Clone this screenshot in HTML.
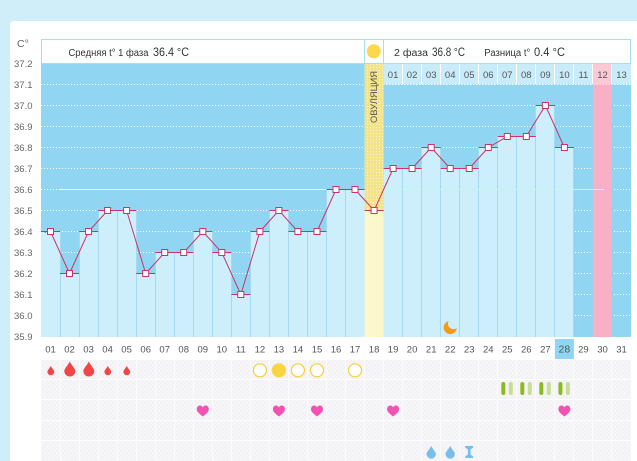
<!DOCTYPE html>
<html><head><meta charset="utf-8"><style>
html,body{margin:0;padding:0;background:#d0eef9;}
svg{display:block;}
text{font-family:"Liberation Sans","DejaVu Sans",sans-serif;}
</style></head><body>
<svg width="637" height="461" viewBox="0 0 637 461" xmlns="http://www.w3.org/2000/svg">
<defs>
<pattern id="dots" width="3" height="3" patternUnits="userSpaceOnUse"><rect x="1" y="1" width="1" height="1" fill="#ffffff" opacity="0.55"/></pattern>
<pattern id="hatch" width="4" height="4" patternUnits="userSpaceOnUse"><rect width="4" height="4" fill="#f6f6f8"/><path d="M0,4 L4,0" stroke="#efeff3" stroke-width="0.7"/></pattern>
<mask id="moonmask"><rect x="430" y="310" width="40" height="30" fill="#fff"/><circle cx="453.6" cy="323.6" r="5.6" fill="#000"/></mask>
</defs>
<rect x="0" y="0" width="637" height="461" fill="#d0eef9"/>
<rect x="10" y="21" width="640" height="460" rx="4" fill="#ffffff"/>

<!-- axis title -->
<text x="17" y="47" font-size="10.5" fill="#666">C°</text>

<!-- plot background -->
<rect x="41" y="63" width="590" height="274" fill="#90d6f2"/>

<!-- dotted gridlines -->
<g stroke="#ffffff" stroke-width="1" stroke-dasharray="1 2">
<line x1="41" x2="631" y1="84.5" y2="84.5"/>
<line x1="41" x2="631" y1="105.5" y2="105.5"/>
<line x1="41" x2="631" y1="126.5" y2="126.5"/>
<line x1="41" x2="631" y1="147.5" y2="147.5"/>
<line x1="41" x2="631" y1="168.5" y2="168.5"/>
<line x1="41" x2="631" y1="189.5" y2="189.5"/>
<line x1="41" x2="631" y1="210.5" y2="210.5"/>
<line x1="41" x2="631" y1="231.5" y2="231.5"/>
<line x1="41" x2="631" y1="252.5" y2="252.5"/>
<line x1="41" x2="631" y1="273.5" y2="273.5"/>
<line x1="41" x2="631" y1="294.5" y2="294.5"/>
<line x1="41" x2="631" y1="315.5" y2="315.5"/>
</g>

<!-- bars -->
<g fill="#cdeefb">
<rect x="41.0" y="231" width="19.1" height="106"/>
<rect x="60.0" y="273" width="19.1" height="64"/>
<rect x="79.1" y="231" width="19.1" height="106"/>
<rect x="98.1" y="210" width="19.1" height="127"/>
<rect x="117.1" y="210" width="19.1" height="127"/>
<rect x="136.2" y="273" width="19.1" height="64"/>
<rect x="155.2" y="252" width="19.1" height="85"/>
<rect x="174.2" y="252" width="19.1" height="85"/>
<rect x="193.3" y="231" width="19.1" height="106"/>
<rect x="212.3" y="252" width="19.1" height="85"/>
<rect x="231.3" y="294" width="19.1" height="43"/>
<rect x="250.4" y="231" width="19.1" height="106"/>
<rect x="269.4" y="210" width="19.1" height="127"/>
<rect x="288.4" y="231" width="19.1" height="106"/>
<rect x="307.5" y="231" width="19.1" height="106"/>
<rect x="326.5" y="189" width="19.1" height="148"/>
<rect x="345.5" y="189" width="19.1" height="148"/>
<rect x="383.6" y="168" width="19.1" height="169"/>
<rect x="402.6" y="168" width="19.1" height="169"/>
<rect x="421.6" y="147" width="19.1" height="190"/>
<rect x="440.7" y="168" width="19.1" height="169"/>
<rect x="459.7" y="168" width="19.1" height="169"/>
<rect x="478.7" y="147" width="19.1" height="190"/>
<rect x="497.8" y="136" width="19.1" height="201"/>
<rect x="516.8" y="136" width="19.1" height="201"/>
<rect x="535.8" y="105" width="19.1" height="232"/>
<rect x="554.9" y="147" width="19.1" height="190"/>
</g>
<!-- bar separators -->
<g stroke="#a3daf1" stroke-width="1">
<line x1="60.5" x2="60.5" y1="231" y2="337"/>
<line x1="79.5" x2="79.5" y1="231" y2="337"/>
<line x1="98.5" x2="98.5" y1="210" y2="337"/>
<line x1="117.5" x2="117.5" y1="210" y2="337"/>
<line x1="136.5" x2="136.5" y1="210" y2="337"/>
<line x1="155.5" x2="155.5" y1="252" y2="337"/>
<line x1="174.5" x2="174.5" y1="252" y2="337"/>
<line x1="193.5" x2="193.5" y1="231" y2="337"/>
<line x1="212.5" x2="212.5" y1="231" y2="337"/>
<line x1="231.5" x2="231.5" y1="252" y2="337"/>
<line x1="250.5" x2="250.5" y1="231" y2="337"/>
<line x1="269.5" x2="269.5" y1="210" y2="337"/>
<line x1="288.5" x2="288.5" y1="210" y2="337"/>
<line x1="307.5" x2="307.5" y1="231" y2="337"/>
<line x1="326.5" x2="326.5" y1="189" y2="337"/>
<line x1="345.5" x2="345.5" y1="189" y2="337"/>
<line x1="402.5" x2="402.5" y1="168" y2="337"/>
<line x1="421.5" x2="421.5" y1="147" y2="337"/>
<line x1="440.5" x2="440.5" y1="147" y2="337"/>
<line x1="459.5" x2="459.5" y1="168" y2="337"/>
<line x1="478.5" x2="478.5" y1="147" y2="337"/>
<line x1="497.5" x2="497.5" y1="136" y2="337"/>
<line x1="516.5" x2="516.5" y1="136" y2="337"/>
<line x1="535.5" x2="535.5" y1="105" y2="337"/>
<line x1="554.5" x2="554.5" y1="105" y2="337"/>
<line x1="573.5" x2="573.5" y1="147" y2="337"/>
</g>

<!-- ovulation column -->
<rect x="364.6" y="63" width="19" height="147" fill="#f3e48b"/>
<rect x="364.6" y="63" width="19" height="147" fill="url(#dots)"/>
<rect x="364.6" y="210" width="19" height="127" fill="#fdf7cc"/>
<text transform="translate(377,123) rotate(-90)" font-size="9.5" fill="#555" textLength="52" lengthAdjust="spacingAndGlyphs">ОВУЛЯЦИЯ</text>

<!-- pink column -->
<rect x="592.9" y="63" width="19.1" height="274" fill="#f9afc6"/>

<!-- phase 2 day header -->
<rect x="383.6" y="63" width="247.4" height="21" fill="#c9ecfa"/>
<rect x="592.9" y="63" width="19.1" height="21" fill="#fcc9d7"/>
<g stroke="#ffffff" stroke-width="1">
<line x1="402.5" x2="402.5" y1="63" y2="84"/>
<line x1="421.5" x2="421.5" y1="63" y2="84"/>
<line x1="440.5" x2="440.5" y1="63" y2="84"/>
<line x1="459.5" x2="459.5" y1="63" y2="84"/>
<line x1="478.5" x2="478.5" y1="63" y2="84"/>
<line x1="497.5" x2="497.5" y1="63" y2="84"/>
<line x1="516.5" x2="516.5" y1="63" y2="84"/>
<line x1="535.5" x2="535.5" y1="63" y2="84"/>
<line x1="554.5" x2="554.5" y1="63" y2="84"/>
<line x1="573.5" x2="573.5" y1="63" y2="84"/>
<line x1="592.5" x2="592.5" y1="63" y2="84"/>
<line x1="611.5" x2="611.5" y1="63" y2="84"/>
</g>
<line x1="383.6" x2="631" y1="84.5" y2="84.5" stroke="#ffffff" stroke-dasharray="1 2"/>
<g font-size="9.5" fill="#555" text-anchor="middle">
<text x="393.1" y="78">01</text><text x="412.1" y="78">02</text><text x="431.2" y="78">03</text>
<text x="450.2" y="78">04</text><text x="469.2" y="78">05</text><text x="488.3" y="78">06</text>
<text x="507.3" y="78">07</text><text x="526.3" y="78">08</text><text x="545.4" y="78">09</text>
<text x="564.4" y="78">10</text><text x="583.4" y="78">11</text><text x="602.5" y="78">12</text>
<text x="621.5" y="78">13</text>
</g>

<!-- cover lines at 36.6 -->
<line x1="60" x2="364.6" y1="189.5" y2="189.5" stroke="#f2f8e6" stroke-width="1"/>
<line x1="383.6" x2="604" y1="189.5" y2="189.5" stroke="#f2eab2" stroke-width="1"/>

<!-- bar caps -->
<g stroke="#cc3366" stroke-width="1">
<line x1="41.0" x2="60.0" y1="231.5" y2="231.5"/>
<line x1="60.0" x2="79.1" y1="273.5" y2="273.5"/>
<line x1="79.1" x2="98.1" y1="231.5" y2="231.5"/>
<line x1="98.1" x2="117.1" y1="210.5" y2="210.5"/>
<line x1="117.1" x2="136.2" y1="210.5" y2="210.5"/>
<line x1="136.2" x2="155.2" y1="273.5" y2="273.5"/>
<line x1="155.2" x2="174.2" y1="252.5" y2="252.5"/>
<line x1="174.2" x2="193.3" y1="252.5" y2="252.5"/>
<line x1="193.3" x2="212.3" y1="231.5" y2="231.5"/>
<line x1="212.3" x2="231.3" y1="252.5" y2="252.5"/>
<line x1="231.3" x2="250.4" y1="294.5" y2="294.5"/>
<line x1="250.4" x2="269.4" y1="231.5" y2="231.5"/>
<line x1="269.4" x2="288.4" y1="210.5" y2="210.5"/>
<line x1="288.4" x2="307.5" y1="231.5" y2="231.5"/>
<line x1="307.5" x2="326.5" y1="231.5" y2="231.5"/>
<line x1="326.5" x2="345.5" y1="189.5" y2="189.5"/>
<line x1="345.5" x2="364.6" y1="189.5" y2="189.5"/>
<line x1="364.6" x2="383.6" y1="210.5" y2="210.5"/>
<line x1="383.6" x2="402.6" y1="168.5" y2="168.5"/>
<line x1="402.6" x2="421.6" y1="168.5" y2="168.5"/>
<line x1="421.6" x2="440.7" y1="147.5" y2="147.5"/>
<line x1="440.7" x2="459.7" y1="168.5" y2="168.5"/>
<line x1="459.7" x2="478.7" y1="168.5" y2="168.5"/>
<line x1="478.7" x2="497.8" y1="147.5" y2="147.5"/>
<line x1="497.8" x2="516.8" y1="136.5" y2="136.5"/>
<line x1="516.8" x2="535.8" y1="136.5" y2="136.5"/>
<line x1="535.8" x2="554.9" y1="105.5" y2="105.5"/>
<line x1="554.9" x2="573.9" y1="147.5" y2="147.5"/>
</g>

<!-- temperature line -->
<polyline fill="none" stroke="#cc3366" stroke-width="1" points="50.5,231.5 69.5,273.5 88.6,231.5 107.6,210.5 126.6,210.5 145.7,273.5 164.7,252.5 183.7,252.5 202.8,231.5 221.8,252.5 240.8,294.5 259.9,231.5 278.9,210.5 297.9,231.5 317.0,231.5 336.0,189.5 355.0,189.5 374.1,210.5 393.1,168.5 412.1,168.5 431.2,147.5 450.2,168.5 469.2,168.5 488.3,147.5 507.3,136.5 526.3,136.5 545.4,105.5 564.4,147.5"/>
<g fill="#ffffff" stroke="#cc3366" stroke-width="1">
<rect x="47.5" y="228.5" width="6" height="6"/>
<rect x="66.5" y="270.5" width="6" height="6"/>
<rect x="85.6" y="228.5" width="6" height="6"/>
<rect x="104.6" y="207.5" width="6" height="6"/>
<rect x="123.6" y="207.5" width="6" height="6"/>
<rect x="142.7" y="270.5" width="6" height="6"/>
<rect x="161.7" y="249.5" width="6" height="6"/>
<rect x="180.7" y="249.5" width="6" height="6"/>
<rect x="199.8" y="228.5" width="6" height="6"/>
<rect x="218.8" y="249.5" width="6" height="6"/>
<rect x="237.8" y="291.5" width="6" height="6"/>
<rect x="256.9" y="228.5" width="6" height="6"/>
<rect x="275.9" y="207.5" width="6" height="6"/>
<rect x="294.9" y="228.5" width="6" height="6"/>
<rect x="314.0" y="228.5" width="6" height="6"/>
<rect x="333.0" y="186.5" width="6" height="6"/>
<rect x="352.0" y="186.5" width="6" height="6"/>
<rect x="371.1" y="207.5" width="6" height="6"/>
<rect x="390.1" y="165.5" width="6" height="6"/>
<rect x="409.1" y="165.5" width="6" height="6"/>
<rect x="428.2" y="144.5" width="6" height="6"/>
<rect x="447.2" y="165.5" width="6" height="6"/>
<rect x="466.2" y="165.5" width="6" height="6"/>
<rect x="485.3" y="144.5" width="6" height="6"/>
<rect x="504.3" y="133.5" width="6" height="6"/>
<rect x="523.3" y="133.5" width="6" height="6"/>
<rect x="542.4" y="102.5" width="6" height="6"/>
<rect x="561.4" y="144.5" width="6" height="6"/>
</g>

<!-- moon -->
<circle cx="450.2" cy="327.5" r="6.6" fill="#f29a1c" mask="url(#moonmask)"/>

<!-- header box -->
<rect x="41.5" y="39.5" width="589" height="24" fill="#ffffff" stroke="#a9dcef" stroke-width="1"/>
<line x1="364.5" x2="364.5" y1="39.5" y2="63" stroke="#a9dcef"/>
<line x1="383.5" x2="383.5" y1="39.5" y2="63" stroke="#a9dcef"/>
<circle cx="373.8" cy="51.3" r="7" fill="#fcd84a"/>
<g fill="#333">
<text x="68.5" y="56" font-size="10" textLength="80" lengthAdjust="spacingAndGlyphs">Средняя t° 1 фаза</text>
<text x="153" y="56" font-size="11.5" textLength="36" lengthAdjust="spacingAndGlyphs">36.4 °C</text>
<text x="394" y="56" font-size="10" textLength="34" lengthAdjust="spacingAndGlyphs">2 фаза</text>
<text x="432" y="56" font-size="11.5" textLength="33" lengthAdjust="spacingAndGlyphs">36.8 °C</text>
<text x="484.3" y="56" font-size="10" textLength="46" lengthAdjust="spacingAndGlyphs">Разница t°</text>
<text x="534" y="56" font-size="11.5" textLength="31" lengthAdjust="spacingAndGlyphs">0.4 °C</text>
</g>

<!-- y labels -->
<g font-size="9.5" fill="#666" text-anchor="end">
<text x="32.5" y="67">37.2</text>
<text x="32.5" y="88">37.1</text>
<text x="32.5" y="109">37.0</text>
<text x="32.5" y="130">36.9</text>
<text x="32.5" y="151">36.8</text>
<text x="32.5" y="172">36.7</text>
<text x="32.5" y="193">36.6</text>
<text x="32.5" y="214">36.5</text>
<text x="32.5" y="235">36.4</text>
<text x="32.5" y="256">36.3</text>
<text x="32.5" y="277">36.2</text>
<text x="32.5" y="298">36.1</text>
<text x="32.5" y="319">36.0</text>
<text x="32.5" y="340">35.9</text>
</g>
<circle cx="45.3" cy="232" r="0.8" fill="#666"/>

<!-- x labels -->
<rect x="554.9" y="339" width="19" height="20" fill="#8fd6f2"/>
<g font-size="9.5" fill="#555" text-anchor="middle">
<text x="50.5" y="352.5">01</text><text x="69.5" y="352.5">02</text><text x="88.6" y="352.5">03</text>
<text x="107.6" y="352.5">04</text><text x="126.6" y="352.5">05</text><text x="145.7" y="352.5">06</text>
<text x="164.7" y="352.5">07</text><text x="183.7" y="352.5">08</text><text x="202.8" y="352.5">09</text>
<text x="221.8" y="352.5">10</text><text x="240.8" y="352.5">11</text><text x="259.9" y="352.5">12</text>
<text x="278.9" y="352.5">13</text><text x="297.9" y="352.5">14</text><text x="317.0" y="352.5">15</text>
<text x="336.0" y="352.5">16</text><text x="355.0" y="352.5">17</text><text x="374.1" y="352.5">18</text>
<text x="393.1" y="352.5">19</text><text x="412.1" y="352.5">20</text><text x="431.2" y="352.5">21</text>
<text x="450.2" y="352.5">22</text><text x="469.2" y="352.5">23</text><text x="488.3" y="352.5">24</text>
<text x="507.3" y="352.5">25</text><text x="526.3" y="352.5">26</text><text x="545.4" y="352.5">27</text>
<text x="564.4" y="352.5" font-size="10.5">28</text><text x="583.4" y="352.5">29</text><text x="602.5" y="352.5">30</text>
<text x="621.5" y="352.5">31</text>
</g>

<!-- icon area -->
<rect x="41" y="360" width="590" height="101" fill="url(#hatch)"/>
<g stroke="#ffffff" stroke-width="1">
<line x1="41" x2="631" y1="379.5" y2="379.5"/>
<line x1="41" x2="631" y1="399.5" y2="399.5"/>
<line x1="41" x2="631" y1="420.5" y2="420.5"/>
<line x1="41" x2="631" y1="440.5" y2="440.5"/>
</g>
<g stroke="#fbfbfc" stroke-width="1">
<line x1="60.5" x2="60.5" y1="360" y2="461"/><line x1="79.5" x2="79.5" y1="360" y2="461"/>
<line x1="98.5" x2="98.5" y1="360" y2="461"/><line x1="117.5" x2="117.5" y1="360" y2="461"/>
<line x1="136.5" x2="136.5" y1="360" y2="461"/><line x1="155.5" x2="155.5" y1="360" y2="461"/>
<line x1="174.5" x2="174.5" y1="360" y2="461"/><line x1="193.5" x2="193.5" y1="360" y2="461"/>
<line x1="212.5" x2="212.5" y1="360" y2="461"/><line x1="231.5" x2="231.5" y1="360" y2="461"/>
<line x1="250.5" x2="250.5" y1="360" y2="461"/><line x1="269.5" x2="269.5" y1="360" y2="461"/>
<line x1="288.5" x2="288.5" y1="360" y2="461"/><line x1="307.5" x2="307.5" y1="360" y2="461"/>
<line x1="326.5" x2="326.5" y1="360" y2="461"/><line x1="345.5" x2="345.5" y1="360" y2="461"/>
<line x1="364.5" x2="364.5" y1="360" y2="461"/><line x1="383.5" x2="383.5" y1="360" y2="461"/>
<line x1="402.5" x2="402.5" y1="360" y2="461"/><line x1="421.5" x2="421.5" y1="360" y2="461"/>
<line x1="440.5" x2="440.5" y1="360" y2="461"/><line x1="459.5" x2="459.5" y1="360" y2="461"/>
<line x1="478.5" x2="478.5" y1="360" y2="461"/><line x1="497.5" x2="497.5" y1="360" y2="461"/>
<line x1="516.5" x2="516.5" y1="360" y2="461"/><line x1="535.5" x2="535.5" y1="360" y2="461"/>
<line x1="554.5" x2="554.5" y1="360" y2="461"/><line x1="573.5" x2="573.5" y1="360" y2="461"/>
<line x1="592.5" x2="592.5" y1="360" y2="461"/><line x1="611.5" x2="611.5" y1="360" y2="461"/>
</g>

<!-- blood drops -->
<g fill="#f04646">
<path transform="translate(50.8,371.5) scale(0.62)" d="M0,-9 C1.5,-5.5 5.5,-2 5.5,0.5 A5.5,5.5 0 0 1 -5.5,0.5 C-5.5,-2 -1.5,-5.5 0,-9Z"/>
<path transform="translate(69.8,370.5)" d="M0,-9 C1.5,-5.5 5.5,-2 5.5,0.5 A5.5,5.5 0 0 1 -5.5,0.5 C-5.5,-2 -1.5,-5.5 0,-9Z"/>
<path transform="translate(88.8,370.5)" d="M0,-9 C1.5,-5.5 5.5,-2 5.5,0.5 A5.5,5.5 0 0 1 -5.5,0.5 C-5.5,-2 -1.5,-5.5 0,-9Z"/>
<path transform="translate(107.8,371.5) scale(0.62)" d="M0,-9 C1.5,-5.5 5.5,-2 5.5,0.5 A5.5,5.5 0 0 1 -5.5,0.5 C-5.5,-2 -1.5,-5.5 0,-9Z"/>
<path transform="translate(126.8,371.5) scale(0.62)" d="M0,-9 C1.5,-5.5 5.5,-2 5.5,0.5 A5.5,5.5 0 0 1 -5.5,0.5 C-5.5,-2 -1.5,-5.5 0,-9Z"/>
</g>
<!-- circles -->
<g stroke="#f6cf3c" stroke-width="1.2" fill="#ffffff">
<circle cx="259.9" cy="370.3" r="6.5"/>
<circle cx="297.9" cy="370.3" r="6.5"/>
<circle cx="317.0" cy="370.3" r="6.5"/>
<circle cx="355.0" cy="370.3" r="6.5"/>
</g>
<circle cx="278.9" cy="370.3" r="7.1" fill="#fbd443"/>

<!-- green bars -->
<g>
<rect x="501.3" y="382" width="4" height="13" rx="2" fill="#8cbb1e"/>
<rect x="508.8" y="382" width="4" height="13" rx="2" fill="#c9dd94"/>
<rect x="520.3" y="382" width="4" height="13" rx="2" fill="#8cbb1e"/>
<rect x="527.8" y="382" width="4" height="13" rx="2" fill="#c9dd94"/>
<rect x="539.3" y="382" width="4" height="13" rx="2" fill="#8cbb1e"/>
<rect x="546.8" y="382" width="4" height="13" rx="2" fill="#c9dd94"/>
<rect x="558.4" y="382" width="4" height="13" rx="2" fill="#8cbb1e"/>
<rect x="565.9" y="382" width="4" height="13" rx="2" fill="#c9dd94"/>
</g>

<!-- hearts -->
<g fill="#f253b2">
<path transform="translate(202.8,411.5)" d="M0,5 C-3,2.5 -6,0.5 -6,-2.3 C-6,-4.8 -4.3,-6 -3,-6 C-1.5,-6 -0.5,-5.2 0,-4 C0.5,-5.2 1.5,-6 3,-6 C4.3,-6 6,-4.8 6,-2.3 C6,0.5 3,2.5 0,5Z"/>
<path transform="translate(278.9,411.5)" d="M0,5 C-3,2.5 -6,0.5 -6,-2.3 C-6,-4.8 -4.3,-6 -3,-6 C-1.5,-6 -0.5,-5.2 0,-4 C0.5,-5.2 1.5,-6 3,-6 C4.3,-6 6,-4.8 6,-2.3 C6,0.5 3,2.5 0,5Z"/>
<path transform="translate(317.0,411.5)" d="M0,5 C-3,2.5 -6,0.5 -6,-2.3 C-6,-4.8 -4.3,-6 -3,-6 C-1.5,-6 -0.5,-5.2 0,-4 C0.5,-5.2 1.5,-6 3,-6 C4.3,-6 6,-4.8 6,-2.3 C6,0.5 3,2.5 0,5Z"/>
<path transform="translate(393.1,411.5)" d="M0,5 C-3,2.5 -6,0.5 -6,-2.3 C-6,-4.8 -4.3,-6 -3,-6 C-1.5,-6 -0.5,-5.2 0,-4 C0.5,-5.2 1.5,-6 3,-6 C4.3,-6 6,-4.8 6,-2.3 C6,0.5 3,2.5 0,5Z"/>
<path transform="translate(564.4,411.5)" d="M0,5 C-3,2.5 -6,0.5 -6,-2.3 C-6,-4.8 -4.3,-6 -3,-6 C-1.5,-6 -0.5,-5.2 0,-4 C0.5,-5.2 1.5,-6 3,-6 C4.3,-6 6,-4.8 6,-2.3 C6,0.5 3,2.5 0,5Z"/>
</g>

<!-- water drops + hourglass -->
<g fill="#78bee9">
<path transform="translate(431.2,453.5) scale(0.85)" d="M0,-9 C1.5,-5.5 5.5,-2 5.5,0.5 A5.5,5.5 0 0 1 -5.5,0.5 C-5.5,-2 -1.5,-5.5 0,-9Z"/>
<path transform="translate(450.2,453.5) scale(0.85)" d="M0,-9 C1.5,-5.5 5.5,-2 5.5,0.5 A5.5,5.5 0 0 1 -5.5,0.5 C-5.5,-2 -1.5,-5.5 0,-9Z"/>
<path transform="translate(469.2,452)" d="M-4,-6 H4 V-4.5 L1.3,-2.5 V2.5 L4,4.5 V6 H-4 V4.5 L-1.3,2.5 V-2.5 L-4,-4.5Z"/>
</g>
</svg>
</body></html>
